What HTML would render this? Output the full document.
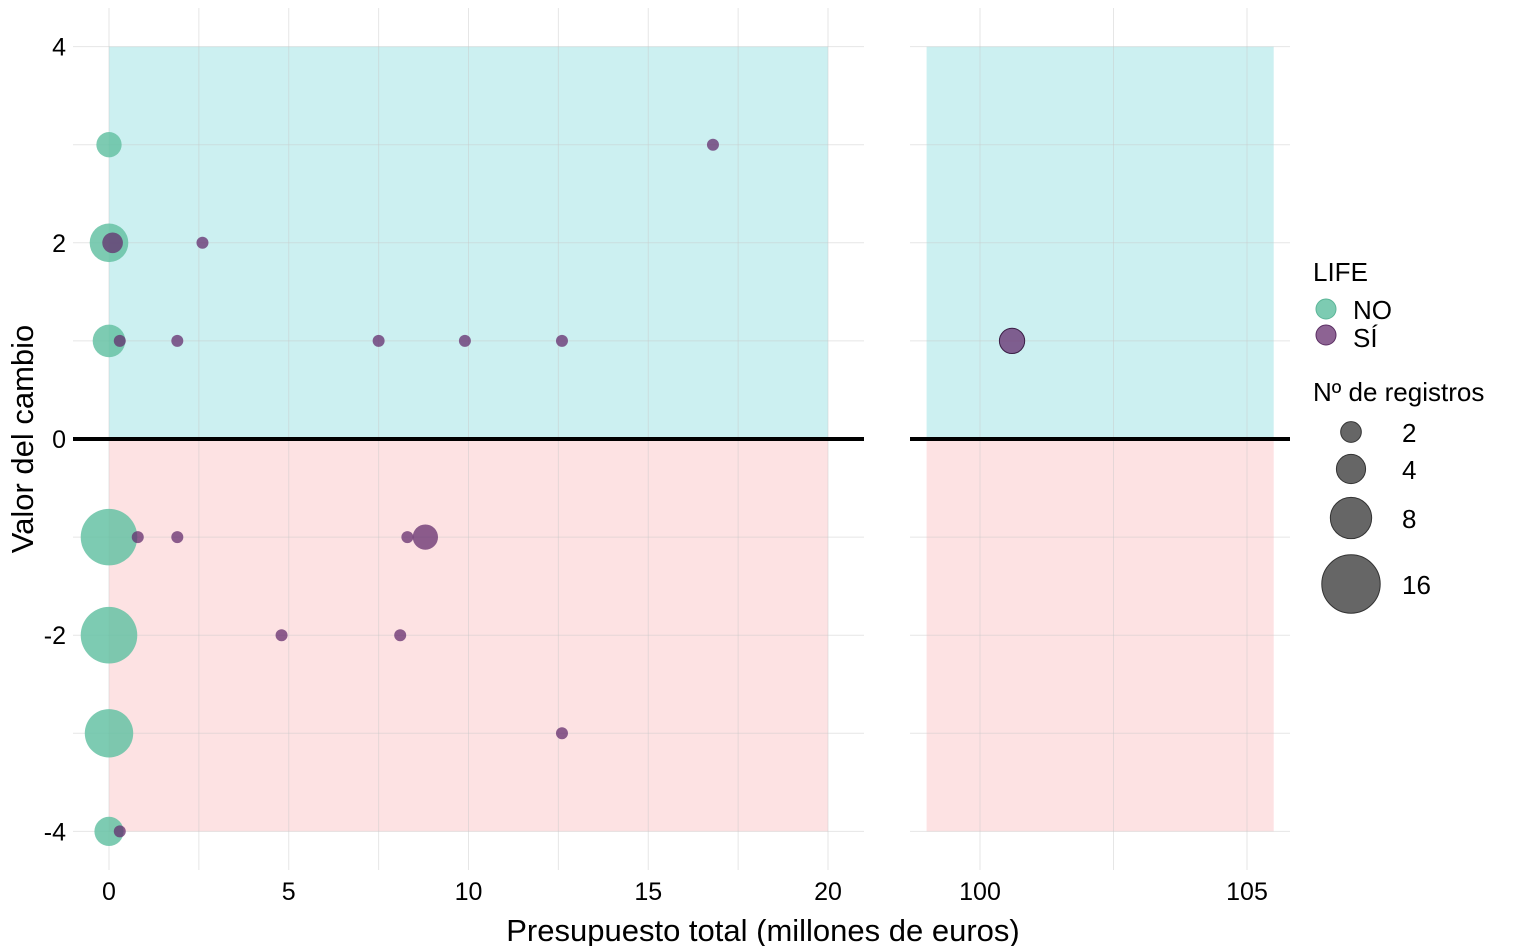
<!DOCTYPE html>
<html><head><meta charset="utf-8"><style>
html,body{margin:0;padding:0;background:#fff;}
svg{display:block;font-family:"Liberation Sans",Arial,sans-serif;}
</style></head><body>
<svg id="chart" width="1526" height="946" viewBox="0 0 1526 946" xmlns="http://www.w3.org/2000/svg">
<g id="panels"></g>
<g id="legend">
  <text x="1313" y="281" font-size="26" fill="#000">LIFE</text>
  <circle cx="1326" cy="309" r="10" fill="rgba(102,194,165,0.85)" stroke="#5bb597"/>
  <text x="1353" y="319" font-size="26">NO</text>
  <circle cx="1326" cy="335" r="10" fill="rgba(112,60,120,0.8)" stroke="#5a2e62"/>
  <text x="1353" y="347" font-size="26">SÍ</text>
  <text x="1313" y="401" font-size="26">Nº de registros</text>
</g>
<text x="763" y="941" font-size="31" text-anchor="middle">Presupuesto total (millones de euros)</text>
<text transform="translate(33,439) rotate(-90)" font-size="31" text-anchor="middle">Valor del cambio</text>
</svg>
<script>
const noX = [0, 0, 0, 0, 0, 0, 0];
const noY = [3, 2, 1, -1, -2, -3, -4];
const noN = [3, 7, 5, 15, 15, 11, 4];
const siX = [0.1, 2.6, 0.3, 1.9, 7.5, 9.9, 12.6, 16.8, 0.8, 1.9, 8.3, 8.8, 4.8, 8.1, 12.6, 0.3, 100.6];
const siY = [2, 2, 1, 1, 1, 1, 1, 3, -1, -1, -1, -1, -2, -2, -3, -4, 1];
const siN = [2, 1, 1, 1, 1, 1, 1, 1, 1, 1, 1, 3, 1, 1, 1, 1, 3];
const leftTicks = [0, 5, 10, 15, 20];
const rightTicks = [100, 105];
const yTicks = [-4, -2, 0, 2, 4];
const sizeBreaks = [2, 4, 8, 16];

const NS = "http://www.w3.org/2000/svg";
const g = document.getElementById('panels');
function el(tag, attrs, parent) {
  const e = document.createElementNS(NS, tag);
  for (const k in attrs) e.setAttribute(k, attrs[k]);
  (parent || g).appendChild(e);
  return e;
}
const yS = v => 439 - v * 98.1;
const xL = v => 109 + v * 35.95;
const xR = v => 980 + (v - 100) * 53.4;
const rS = n => n < 2 ? 6 : 7.3 * Math.sqrt(n);

const panels = [
  {x: xL, x0: 73, x1: 864, rx0: 0, rx1: 20, ticks: leftTicks, minor: [2.5, 7.5, 12.5, 17.5], name: 'left'},
  {x: xR, x0: 910, x1: 1290, rx0: 99.0, rx1: 105.5, ticks: rightTicks, minor: [102.5], name: 'right'}
];
panels.forEach(p => {
  let r = el('rect', {x: p.x(p.rx0), y: yS(4), width: p.x(p.rx1) - p.x(p.rx0), height: yS(0) - yS(4), fill: '#ccf0f1'});
  
  
  r = el('rect', {x: p.x(p.rx0), y: yS(0), width: p.x(p.rx1) - p.x(p.rx0), height: yS(-4) - yS(0), fill: '#fde2e3'});
  
  
  for (let v = -4; v <= 4; v++) {
    const l = el('line', {x1: p.x0, x2: p.x1, y1: yS(v), y2: yS(v), stroke: 'rgba(200,200,200,0.45)', 'stroke-width': 1});
    
    
  }
  p.ticks.concat(p.minor).forEach(v => {
    const l = el('line', {x1: p.x(v), x2: p.x(v), y1: 8, y2: 870, stroke: 'rgba(200,200,200,0.45)', 'stroke-width': 1});
    
    
  });
  p.ticks.forEach(v => {
    const t = el('text', {x: p.x(v), y: 900, 'font-size': 25, 'text-anchor': 'middle', fill: '#000'});
    t.textContent = v;
    
    
  });
  const z = el('line', {x1: p.x0, x2: p.x1, y1: yS(0), y2: yS(0), stroke: '#000', 'stroke-width': 4});
  
  
});
yTicks.forEach(v => {
  const t = el('text', {x: 66, y: yS(v) + 9, 'font-size': 25, 'text-anchor': 'end'});
  t.textContent = v;
  
  
});
noX.forEach((v, i) => {
  const c = el('circle', {cx: xL(v), cy: yS(noY[i]), r: rS(noN[i]), fill: 'rgba(102,194,165,0.85)'});
  
  
});
siX.forEach((v, i) => {
  const xf = v > 50 ? xR : xL;
  const c = el('circle', {cx: xf(v), cy: yS(siY[i]), r: rS(siN[i]), fill: 'rgba(100,45,110,0.75)', stroke: v > 50 ? '#3a1e45' : 'none', 'stroke-width': 1});
  
  
});
const lg = document.getElementById('legend');
const legY = [432, 469, 518, 584];
sizeBreaks.forEach((n, i) => {
  const c = el('circle', {cx: 1351, cy: legY[i], r: rS(n), fill: '#666', stroke: '#333', 'stroke-width': 1}, lg);
  
  
  const t = el('text', {x: 1402, y: legY[i] + 10, 'font-size': 26}, lg);
  t.textContent = n;
  
  
});
</script>
</body></html>
